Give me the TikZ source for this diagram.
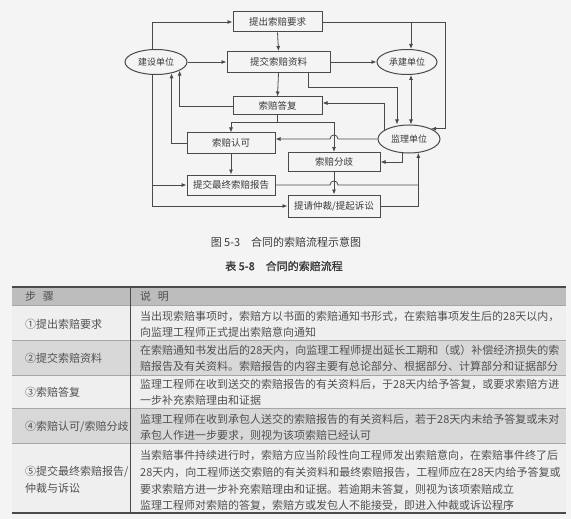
\documentclass[tikz,border=0pt]{standalone}
\usepackage{fontspec}
\setmainfont{Noto Sans CJK SC}
\newfontfamily\titlefont[FakeBold=1.2]{Noto Sans CJK SC}
\usetikzlibrary{arrows.meta,calc,shapes.geometric}
\definecolor{ln}{HTML}{4A4A4A}
\definecolor{tx}{HTML}{3A3A3A}
\definecolor{pg}{HTML}{F4F4F4}
\definecolor{hd}{HTML}{BDBDBD}
\definecolor{sh}{HTML}{D8D8D8}
\definecolor{wr}{HTML}{EFEFEF}
\definecolor{tt}{HTML}{505050}
\begin{document}
\begin{tikzpicture}[x=1pt,y=-1pt,
  flowbox/.style={draw=ln,line width=1pt,minimum width=#1,minimum height=20pt,inner sep=0pt,font=\fontsize{9.5}{10}\selectfont,text=tx},
  flowbox/.default=89pt,
  unitell/.style={ellipse,draw=ln,line width=1pt,minimum width=62pt,minimum height=25pt,inner sep=0pt,font=\fontsize{9}{10}\selectfont,text=tx},
  conn/.style={draw=ln,line width=0.8pt,-{Latex[length=5pt,width=4pt]}},
  dconn/.style={draw=ln,line width=0.8pt,{Latex[length=5pt,width=4pt]}-{Latex[length=5pt,width=4pt]}},
  lnplain/.style={draw=ln,line width=0.8pt},
  celltxt/.style={anchor=west,inner sep=0pt,font=\fontsize{11}{12}\selectfont,text=tt},
  captxt/.style={inner sep=0pt,font=\fontsize{11}{12}\selectfont,text=tx},
  tblrule/.style={draw=gray!70,line width=0.5pt},
  tblthick/.style={draw=ln,line width=1.5pt}]
\useasboundingbox (0,0) rectangle (571,519);
\fill[pg] (0,0) rectangle (571,519);

% ---------- flowchart ----------
\node[flowbox] (A) at (277.5,22) {提出索赔要求};
\node[flowbox=103pt,minimum height=21pt] (B) at (278.5,62) {提交索赔资料};
\node[flowbox,minimum height=18pt] (C) at (277.5,106) {索赔答复};
\node[flowbox=88pt] (D) at (231,143) {索赔认可};
\node[flowbox=92pt,minimum height=19pt] (E) at (334,162) {索赔分歧};
\node[flowbox=88pt] (F) at (231,185) {提交最终索赔报告};
\node[flowbox=92pt,minimum height=22pt] (G) at (334,206) {提请仲裁/提起诉讼};
\node[unitell] (P) at (156,62) {建设单位};
\node[unitell,minimum width=60pt] (Q) at (407,62) {承建单位};
\node[unitell,minimum height=28pt] (R) at (409,139) {监理单位};

\coordinate (xl) at (152,0);
\coordinate (xr) at (445,0);
\coordinate (xq) at (411,0);
\coordinate (xs) at (397,0);
\coordinate (xb) at (308,87);
\coordinate (j1) at (277.5,122);
\coordinate (yc) at (0,103);
\coordinate (h1) at (E.north |- R.west);
\coordinate (h2) at (E.north |- F.east);

\draw[conn] (P.north -| xl) |- (A.west);
\draw[conn] (A.south) -- (B.north);
\draw[lnplain] (A.east) -| (xr |- R.25);
\draw[conn] (xr |- R.25) -- (R.25);
\draw[conn] (A.east -| xq) -- (Q.north -| xq);
\draw[conn] (P.east) -- (B.west);
\draw[conn] (B.east) -- (Q.west);
\draw[conn] (B.south) -- (C.north);
\draw[conn] (B.south -| xb) |- (xs |- xb) -- (xs |- R.north);
\draw[dconn] (Q.south -| xq) -- (R.north -| xq);
\draw[conn] (C.west) -| (P.-20);
\draw[conn] (D.west) -| (P.-36);
\draw[conn] (P.south -| xl) |- (G.west);
\draw[conn] (F.west -| xl) -- (F.west);
\draw[lnplain] (C.south) -- (j1);
\draw[conn] (j1) -| (D.north);
\draw[conn] (j1) -| (E.north);
\draw[conn] (R.west) -- ($(h1)+(4,0)$) .. controls +(0,-5.3) and +(0,-5.3) .. ($(h1)+(-4,0)$) -- (R.west -| D.east);
\draw[conn] (R.160) |- (yc -| C.east);
\draw[conn] (R.-115) |- (E.east);
\draw[conn] (G.east) -| (R.-56);
\draw[lnplain] (F.east) -- ($(h2)+(-4,0)$) .. controls +(0,-5.3) and +(0,-5.3) .. ($(h2)+(4,0)$) -- (F.east -| R.-56);
\draw[conn] (D.south) -- (F.north);
\draw[conn] (E.south) -- (G.north);

% ---------- captions ----------
\node[captxt] (cap1) at (286,242) {图 5-3\hspace{1em}合同的索赔流程示意图};
\node[captxt,font=\titlefont\fontsize{11}{12}\selectfont] (cap2) at (284,266) {表 5-8\hspace{1em}合同的索赔流程};

% ---------- table ----------
\fill[hd] (12,287) rectangle (566,305);
\fill[wr] (12,305) rectangle (566,340);
\fill[sh] (12,340) rectangle (566,375);
\fill[wr] (12,375) rectangle (566,408);
\fill[sh] (12,408) rectangle (566,443);
\fill[wr] (12,443) rectangle (566,513);
\draw[tblrule] (12,305) -- (566,305);
\draw[tblrule] (12,340) -- (566,340);
\draw[tblrule] (12,375) -- (566,375);
\draw[tblrule] (12,408) -- (566,408);
\draw[tblrule] (12,443) -- (566,443);
\draw[draw=ln,line width=0.8pt] (130,287) -- (130,513);
\draw[tblthick] (12,287) -- (566,287);
\draw[tblthick] (12,513) -- (566,513);

\node[celltxt] (h1t) at (25,296) {步\hspace{0.6em}骤};
\node[celltxt] (h2t) at (140,296) {说\hspace{0.6em}明};

\node[celltxt] (l1) at (25,324) {①提出索赔要求};
\node[celltxt] (l2) at (25,358) {②提交索赔资料};
\node[celltxt] (l3) at (25,392) {③索赔答复};
\node[celltxt] (l4) at (25,427) {④索赔认可/索赔分歧};
\node[celltxt] (l5a) at (25,472) {⑤提交最终索赔报告/};
\node[celltxt] (l5b) at (25,488) {仲裁与诉讼};

\node[celltxt] (r1a) at (140,316) {当出现索赔事项时，索赔方以书面的索赔通知书形式，在索赔事项发生后的28天以内，};
\node[celltxt] (r1b) at (140,332) {向监理工程师正式提出索赔意向通知};
\node[celltxt] (r2a) at (140,350) {在索赔通知书发出后的28天内，向监理工程师提出延长工期和（或）补偿经济损失的索};
\node[celltxt] (r2b) at (140,366) {赔报告及有关资料。索赔报告的内容主要有总论部分、根据部分、计算部分和证据部分};
\node[celltxt] (r3a) at (140,384) {监理工程师在收到送交的索赔报告的有关资料后，于28天内给予答复，或要求索赔方进};
\node[celltxt] (r3b) at (140,400) {一步补充索赔理由和证据};
\node[celltxt] (r4a) at (140,419) {监理工程师在收到承包人送交的索赔报告的有关资料后，若于28天内未给予答复或未对};
\node[celltxt] (r4b) at (140,435) {承包人作进一步要求，则视为该项索赔已经认可};
\node[celltxt] (r5a) at (140,455) {当索赔事件持续进行时，索赔方应当阶段性向工程师发出索赔意向，在索赔事件终了后};
\node[celltxt] (r5b) at (140,472) {28天内，向工程师送交索赔的有关资料和最终索赔报告，工程师应在28天内给予答复或};
\node[celltxt] (r5c) at (140,489) {要求索赔方进一步补充索赔理由和证据。若逾期未答复，则视为该项索赔成立};
\node[celltxt] (r5d) at (140,505) {监理工程师对索赔的答复，索赔方或发包人不能接受，即进入仲裁或诉讼程序};
\end{tikzpicture}
\end{document}
